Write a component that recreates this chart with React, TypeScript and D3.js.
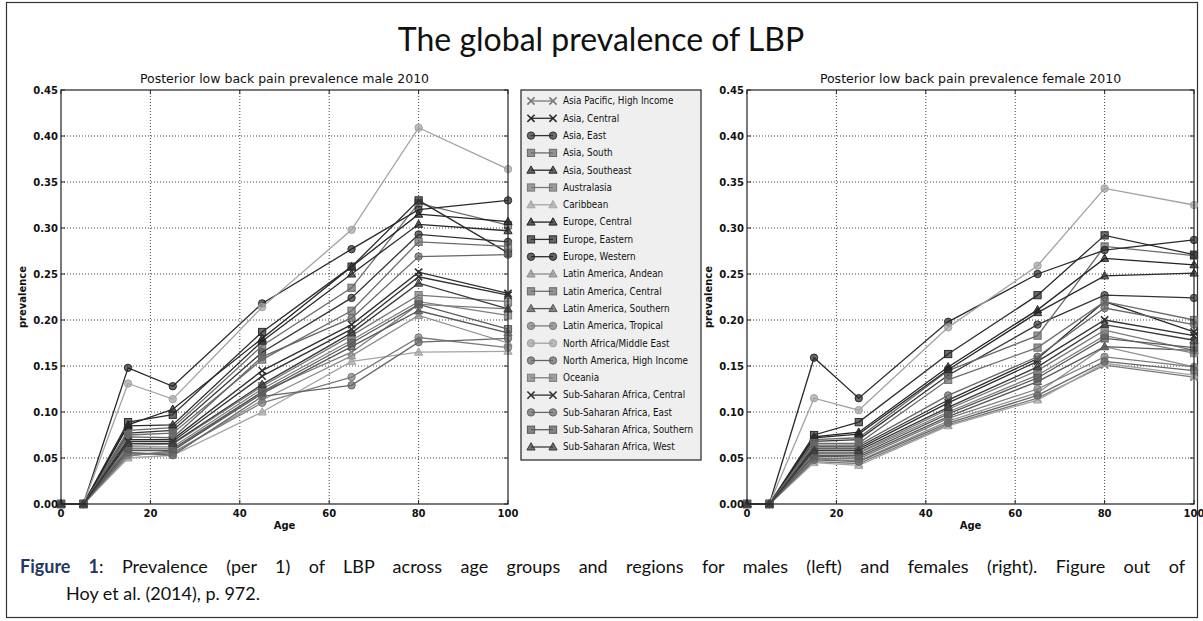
import React, { useLayoutEffect, useRef, useState } from "react";
import * as d3 from "d3";

// ages at which the estimates are plotted
const ages = [0, 5, 15, 25, 45, 65, 80, 100];

const regions = [
  "Asia Pacific, High Income",
  "Asia, Central",
  "Asia, East",
  "Asia, South",
  "Asia, Southeast",
  "Australasia",
  "Caribbean",
  "Europe, Central",
  "Europe, Eastern",
  "Europe, Western",
  "Latin America, Andean",
  "Latin America, Central",
  "Latin America, Southern",
  "Latin America, Tropical",
  "North Africa/Middle East",
  "North America, High Income",
  "Oceania",
  "Sub-Saharan Africa, Central",
  "Sub-Saharan Africa, East",
  "Sub-Saharan Africa, Southern",
  "Sub-Saharan Africa, West",
];

const markers = ["x", "x", "o", "s", "^", "s", "^", "^", "s", "o", "^", "s", "^", "o", "o", "o", "s", "x", "o", "s", "^"];

const shades = [
  "#7a7a7a", "#2e2e2e", "#333333", "#6a6a6a", "#2a2a2a", "#777777", "#a4a4a4",
  "#222222", "#2c2c2c", "#2a2a2a", "#8e8e8e", "#6c6c6c", "#575757", "#7c7c7c",
  "#a2a2a2", "#666666", "#7e7e7e", "#303030", "#666666", "#5a5a5a", "#3a3a3a",
];

const maleValues = [
  [0, 0, 0.052, 0.058, 0.122, 0.165, 0.217, 0.212],
  [0, 0, 0.07, 0.07, 0.145, 0.195, 0.252, 0.229],
  [0, 0, 0.077, 0.08, 0.165, 0.224, 0.293, 0.285],
  [0, 0, 0.08, 0.083, 0.172, 0.235, 0.327, 0.303],
  [0, 0, 0.085, 0.086, 0.177, 0.25, 0.304, 0.297],
  [0, 0, 0.064, 0.065, 0.128, 0.183, 0.227, 0.22],
  [0, 0, 0.05, 0.053, 0.1, 0.155, 0.165, 0.166],
  [0, 0, 0.086, 0.103, 0.18, 0.258, 0.315, 0.307],
  [0, 0, 0.089, 0.097, 0.187, 0.258, 0.33, 0.273],
  [0, 0, 0.148, 0.128, 0.218, 0.277, 0.32, 0.33],
  [0, 0, 0.055, 0.055, 0.113, 0.161, 0.205, 0.175],
  [0, 0, 0.075, 0.077, 0.157, 0.21, 0.285, 0.28],
  [0, 0, 0.058, 0.058, 0.12, 0.171, 0.21, 0.186],
  [0, 0, 0.053, 0.056, 0.11, 0.138, 0.181, 0.17],
  [0, 0, 0.131, 0.114, 0.214, 0.298, 0.409, 0.364],
  [0, 0, 0.073, 0.072, 0.16, 0.202, 0.269, 0.271],
  [0, 0, 0.062, 0.062, 0.125, 0.178, 0.22, 0.205],
  [0, 0, 0.068, 0.068, 0.139, 0.19, 0.247, 0.227],
  [0, 0, 0.056, 0.053, 0.117, 0.129, 0.176, 0.18],
  [0, 0, 0.06, 0.06, 0.122, 0.175, 0.217, 0.19],
  [0, 0, 0.066, 0.066, 0.13, 0.186, 0.24, 0.212],
];

const femaleValues = [
  [0, 0, 0.046, 0.044, 0.086, 0.115, 0.151, 0.138],
  [0, 0, 0.062, 0.062, 0.113, 0.158, 0.22, 0.187],
  [0, 0, 0.068, 0.07, 0.14, 0.195, 0.227, 0.224],
  [0, 0, 0.07, 0.072, 0.145, 0.183, 0.28, 0.27],
  [0, 0, 0.072, 0.076, 0.146, 0.208, 0.248, 0.251],
  [0, 0, 0.056, 0.056, 0.103, 0.145, 0.189, 0.167],
  [0, 0, 0.045, 0.042, 0.085, 0.113, 0.153, 0.14],
  [0, 0, 0.073, 0.078, 0.149, 0.211, 0.267, 0.26],
  [0, 0, 0.075, 0.089, 0.163, 0.227, 0.292, 0.271],
  [0, 0, 0.159, 0.115, 0.198, 0.25, 0.276, 0.287],
  [0, 0, 0.049, 0.047, 0.09, 0.121, 0.171, 0.149],
  [0, 0, 0.066, 0.066, 0.135, 0.17, 0.22, 0.2],
  [0, 0, 0.052, 0.051, 0.095, 0.133, 0.171, 0.167],
  [0, 0, 0.05, 0.049, 0.093, 0.125, 0.16, 0.149],
  [0, 0, 0.115, 0.102, 0.192, 0.259, 0.343, 0.325],
  [0, 0, 0.048, 0.046, 0.088, 0.118, 0.155, 0.145],
  [0, 0, 0.055, 0.055, 0.1, 0.14, 0.183, 0.164],
  [0, 0, 0.06, 0.06, 0.11, 0.155, 0.2, 0.183],
  [0, 0, 0.064, 0.064, 0.118, 0.16, 0.213, 0.195],
  [0, 0, 0.053, 0.053, 0.098, 0.137, 0.18, 0.17],
  [0, 0, 0.058, 0.058, 0.105, 0.149, 0.195, 0.178],
];

const xTicks = [0, 20, 40, 60, 80, 100];
const yTicks = [0, 0.05, 0.1, 0.15, 0.2, 0.25, 0.3, 0.35, 0.4, 0.45];

const captionLead = "Figure 1";
const captionLine1 = ": Prevalence (per 1) of LBP across age groups and regions for males (left) and females (right). Figure out of";
const captionLine2 = "Hoy et al. (2014), p. 972.";

const W = 1203;
const H = 621;
const plotTop = 90;
const plotBottom = 504;
const axisFont = "'DejaVu Sans', sans-serif";
const docFont = "Lato, 'Open Sans', sans-serif";

const Marker = ({ kind, x, y, color }: { kind: string; x: number; y: number; color: string }) => {
  if (kind === "o") {
    return <circle cx={x} cy={y} r={3.7} fill={color} fillOpacity={0.7} stroke={color} strokeWidth={1} />;
  }
  if (kind === "s") {
    return <rect x={x - 3.6} y={y - 3.6} width={7.2} height={7.2} fill={color} fillOpacity={0.7} stroke={color} strokeWidth={1} />;
  }
  if (kind === "^") {
    const p = d3.path();
    p.moveTo(x, y - 4.3);
    p.lineTo(x + 4.1, y + 3);
    p.lineTo(x - 4.1, y + 3);
    p.closePath();
    return <path d={p.toString()} fill={color} fillOpacity={0.7} stroke={color} strokeWidth={1} />;
  }
  return (
    <g stroke={color} strokeWidth={1.6}>
      <line x1={x - 3.6} y1={y - 3.6} x2={x + 3.6} y2={y + 3.6} />
      <line x1={x - 3.6} y1={y + 3.6} x2={x + 3.6} y2={y - 3.6} />
    </g>
  );
};

const Panel = ({ left, right, title, values }: { left: number; right: number; title: string; values: number[][] }) => {
  const x = d3.scaleLinear().domain([0, 100]).range([left, right]);
  const y = d3.scaleLinear().domain([0, 0.45]).range([plotBottom, plotTop]);
  const line = d3
    .line<number>()
    .x((_, i) => x(ages[i]))
    .y((d) => y(d));

  return (
    <g>
      <text x={(left + right) / 2} y={83} textAnchor="middle" fontFamily={axisFont} fontSize={12.5} fill="#111">
        {title}
      </text>
      {/* grid */}
      {xTicks.slice(1, -1).map((t) => (
        <line key={"gx" + t} x1={x(t)} x2={x(t)} y1={plotTop} y2={plotBottom} stroke="#444" strokeWidth={1} strokeDasharray="1,2" />
      ))}
      {yTicks.slice(1, -1).map((t) => (
        <line key={"gy" + t} x1={left} x2={right} y1={y(t)} y2={y(t)} stroke="#444" strokeWidth={1} strokeDasharray="1,2" />
      ))}
      {/* series */}
      {values.map((vals, si) => (
        <g key={si}>
          <path d={line(vals) || ""} fill="none" stroke={shades[si]} strokeWidth={1.3} />
          {vals.map((v, i) => (
            <Marker key={i} kind={markers[si]} x={x(ages[i])} y={y(v)} color={shades[si]} />
          ))}
        </g>
      ))}
      <rect x={left} y={plotTop} width={right - left} height={plotBottom - plotTop} fill="none" stroke="#222" strokeWidth={1.2} />
      {/* ticks */}
      {yTicks.map((t) => (
        <g key={"ty" + t}>
          <line x1={left} x2={left + 4} y1={y(t)} y2={y(t)} stroke="#222" />
          <line x1={right} x2={right - 4} y1={y(t)} y2={y(t)} stroke="#222" />
          <text x={left - 3} y={y(t) + 3.6} textAnchor="end" fontFamily={axisFont} fontWeight="bold" fontSize={10} fill="#111">
            {t.toFixed(2)}
          </text>
        </g>
      ))}
      {xTicks.map((t) => (
        <g key={"tx" + t}>
          <line x1={x(t)} x2={x(t)} y1={plotBottom} y2={plotBottom - 4} stroke="#222" />
          <line x1={x(t)} x2={x(t)} y1={plotTop} y2={plotTop + 4} stroke="#222" />
          <text x={x(t)} y={plotBottom + 13} textAnchor="middle" fontFamily={axisFont} fontWeight="bold" fontSize={10} fill="#111">
            {t}
          </text>
        </g>
      ))}
      <text x={(left + right) / 2} y={plotBottom + 25} textAnchor="middle" fontFamily={axisFont} fontWeight="bold" fontSize={10} fill="#111">
        Age
      </text>
      <text
        transform={`translate(${left - 35},${(plotTop + plotBottom) / 2}) rotate(-90)`}
        textAnchor="middle"
        fontFamily={axisFont}
        fontWeight="bold"
        fontSize={10}
        fill="#111"
      >
        prevalence
      </text>
    </g>
  );
};

const Legend = ({ left, top, width, height }: { left: number; top: number; width: number; height: number }) => {
  const row = d3.scaleLinear().domain([0, regions.length - 1]).range([top + 11, top + height - 13]);
  return (
    <g>
      <rect x={left} y={top} width={width} height={height} fill="#efefef" stroke="#222" strokeWidth={1.2} />
      {regions.map((r, i) => (
        <g key={r}>
          <line x1={left + 10} x2={left + 32} y1={row(i)} y2={row(i)} stroke={shades[i]} strokeWidth={1.3} />
          <Marker kind={markers[i]} x={left + 10} y={row(i)} color={shades[i]} />
          <Marker kind={markers[i]} x={left + 32} y={row(i)} color={shades[i]} />
          <text x={left + 42} y={row(i) + 3.3} fontFamily="'DejaVu Sans Condensed', 'DejaVu Sans', sans-serif" fontSize={9.8} fill="#111">
            {r}
          </text>
        </g>
      ))}
    </g>
  );
};

// first caption line is justified between the frame margins, like the source document
const Caption = () => {
  const ref = useRef<SVGTextElement>(null);
  const [spacing, setSpacing] = useState(0);
  const target = 1165;
  useLayoutEffect(() => {
    if (!ref.current) return;
    const natural = ref.current.getComputedTextLength();
    const gaps = (captionLead + captionLine1).split(" ").length - 1;
    if (natural < target && gaps > 0) setSpacing((target - natural) / gaps);
  }, []);
  return (
    <g fontFamily={docFont} fontSize={18} fill="#111">
      <text ref={ref} x={20} y={573} wordSpacing={spacing}>
        <tspan fontWeight="bold" fill="#1f3864">{captionLead}</tspan>
        {captionLine1}
      </text>
      <text x={66} y={600}>
        {captionLine2}
      </text>
    </g>
  );
};

export default function App() {
  return (
    <svg width={W} height={H} style={{ position: "absolute", left: 0, top: 0, background: "#fff" }}>
      <rect x={6.5} y={2.5} width={1191} height={615} fill="#fff" stroke="#333" strokeWidth={1.2} />
      <text x={601} y={51} textAnchor="middle" fontFamily={docFont} fontSize={32} fill="#111">
        The global prevalence of LBP
      </text>
      <Panel left={61} right={508} title="Posterior low back pain prevalence male 2010" values={maleValues} />
      <Legend left={521} top={90} width={180} height={370} />
      <Panel left={747} right={1194} title="Posterior low back pain prevalence female 2010" values={femaleValues} />
      <Caption />
    </svg>
  );
}
